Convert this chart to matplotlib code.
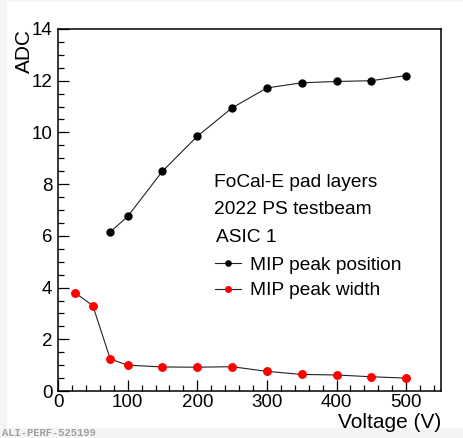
import matplotlib.pyplot as plt
from matplotlib.patches import Rectangle
from matplotlib.ticker import MultipleLocator

# MIP peak vs bias voltage, ASIC 1
volt_pos = [75, 100, 150, 200, 250, 300, 350, 400, 450, 500]
mip_pos = [6.15, 6.75, 8.5, 9.85, 10.95, 11.72, 11.92, 11.97, 12.0, 12.2]

volt_width = [25, 50, 75, 100, 150, 200, 250, 300, 350, 400, 450, 500]
mip_width = [3.79, 3.30, 1.24, 1.0, 0.93, 0.92, 0.94, 0.76, 0.64, 0.62, 0.55, 0.50]

plt.rcParams['font.family'] = ['Liberation Sans', 'DejaVu Sans']

fig = plt.figure(figsize=(4.63, 4.38), dpi=100, facecolor='#f4f4f4')
# white canvas on top of the grey page
fig.patches.append(Rectangle((7 / 463, 10 / 438), 1.0, 426 / 438,
                             transform=fig.transFigure, facecolor='white',
                             edgecolor='none', zorder=-10))

ax = fig.add_axes([0.1253, 0.1073, 0.8272, 0.8265])
ax.set_facecolor('white')

ax.plot(volt_pos, mip_pos, color='#222222', lw=0.8, marker='o', ms=5,
        mfc='black', mec='black', label='MIP peak position')
ax.plot(volt_width, mip_width, color='#222222', lw=0.8, marker='o', ms=5.4,
        mfc='red', mec='red', label='MIP peak width')

ax.set_xlim(0, 550)
ax.set_ylim(0, 14)
ax.xaxis.set_major_locator(MultipleLocator(100))
ax.xaxis.set_minor_locator(MultipleLocator(20))
ax.yaxis.set_major_locator(MultipleLocator(2))
ax.yaxis.set_minor_locator(MultipleLocator(0.5))
ax.tick_params(which='both', direction='in', top=False, right=False,
               labelsize=13.5, width=0.9)
ax.tick_params(which='major', length=8)
ax.tick_params(which='minor', length=4)
ax.tick_params(axis='x', pad=2.5)
ax.tick_params(axis='y', pad=4)
for sp in ax.spines.values():
    sp.set_linewidth(1.1)

ax.set_xlabel('Voltage (V)', fontsize=15, loc='right')
ax.xaxis.set_label_coords(1.0, -0.062)
ax.set_ylabel('ADC', fontsize=15, loc='top')
ax.yaxis.set_label_coords(-0.062, 1.0)

ax.text(0.407, 0.575, 'FoCal-E pad layers', transform=ax.transAxes,
        fontsize=13.8, va='center')
ax.text(0.407, 0.50, '2022 PS testbeam', transform=ax.transAxes,
        fontsize=13.8, va='center')
ax.text(0.412, 0.423, 'ASIC 1', transform=ax.transAxes,
        fontsize=13.8, va='center')

ax.legend(loc='upper left', bbox_to_anchor=(0.41, 0.372), frameon=False,
          fontsize=13.8, borderpad=0, borderaxespad=0, handlelength=1.35,
          handletextpad=0.5, labelspacing=0.42, markerscale=0.75)

fig.text(2 / 463, 2 / 438, 'ALI-PERF-525199', fontsize=7.6,
         family='Liberation Mono', weight='bold', color='#a0a0a0')

fig.savefig('out.png', dpi=100, facecolor=fig.get_facecolor())
